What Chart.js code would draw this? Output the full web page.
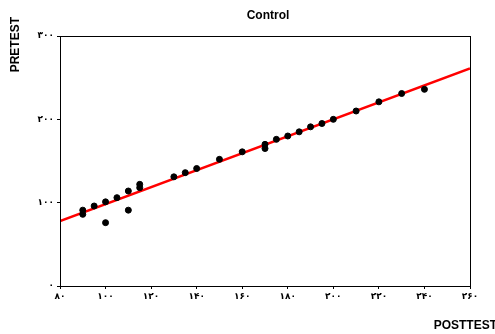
<!DOCTYPE html>
<html>
<head>
<meta charset="utf-8">
<script src="https://cdn.jsdelivr.net/npm/chart.js@4/dist/chart.umd.min.js"></script>
<style>
  body { margin: 0; background: #fff; }
  #wrap { width: 495px; height: 334px; }
</style>
</head>
<body>
<div id="wrap"><canvas id="scatterChart"></canvas></div>
<script>
// Control group: posttest (x) vs pretest (y)
var posttest = [90, 90, 95, 100, 100, 105, 110, 110, 115, 115, 130, 135, 140, 150, 160,
                170, 170, 175, 180, 185, 190, 195, 200, 210, 220, 230, 240];
var pretest  = [91, 86, 96, 101, 76, 106, 114, 91, 122, 118, 131, 136, 141, 152, 161,
                170, 165, 176, 180, 185, 191, 195, 200, 210, 221, 231, 236];

// regression line end points
var fitX = [80, 260];
var fitY = [78, 261];

// tick labels (Persian digits)
var xTicks = {80: '۸۰', 100: '۱۰۰', 120: '۱۲۰', 140: '۱۴۰', 160: '۱۶۰', 180: '۱۸۰',
              200: '۲۰۰', 220: '۲۲۰', 240: '۲۴۰', 260: '۲۶۰'};
var yTicks = {0: '۰', 100: '۱۰۰', 200: '۲۰۰', 300: '۳۰۰'};

var points = posttest.map(function(v, i) {
    return { x: v, y: pretest[i] };
});
var fitLine = fitX.map(function(v, i) {
    return { x: v, y: fitY[i] };
});

// frame, title and axis titles
var extras = {
    id: 'extras',
    afterDraw: function(chart) {
        var ctx = chart.ctx;
        var a = chart.chartArea;
        ctx.save();
        ctx.strokeStyle = '#000';
        ctx.lineWidth = 1;
        ctx.strokeRect(a.left + 0.5, a.top + 0.5, a.right - a.left, a.bottom - a.top);

        ctx.fillStyle = '#000';
        ctx.font = 'bold 12px "Liberation Sans", Arial, sans-serif';
        ctx.textAlign = 'center';
        ctx.textBaseline = 'middle';
        ctx.fillText('Control', 268, 16);

        ctx.font = 'bold 12px "Liberation Sans", Arial, sans-serif';
        ctx.textAlign = 'right';
        ctx.fillText('POSTTEST', 497, 326);

        ctx.translate(16, 17);
        ctx.rotate(-Math.PI / 2);
        ctx.textAlign = 'right';
        ctx.fillText('PRETEST', 0, 0);
        ctx.restore();
    }
};

var ctx = document.getElementById('scatterChart').getContext('2d');
new Chart(ctx, {
    type: 'scatter',
    data: {
        datasets: [{
            label: 'Control',
            data: points,
            backgroundColor: '#000',
            borderColor: '#000',
            pointRadius: 3,
            pointHoverRadius: 3
        }, {
            label: 'Fit',
            data: fitLine,
            showLine: true,
            borderColor: '#ff0000',
            borderWidth: 2.5,
            pointRadius: 0
        }]
    },
    options: {
        responsive: true,
        maintainAspectRatio: false,
        animation: false,
        layout: {
            padding: { top: 36, right: 25, bottom: 0, left: 0 }
        },
        plugins: {
            legend: { display: false },
            tooltip: { enabled: false },
            title: { display: false }
        },
        scales: {
            x: {
                type: 'linear',
                min: 80,
                max: 260,
                afterFit: function(scale) { scale.height = 48; },
                afterBuildTicks: function(scale) {
                    scale.ticks = Object.keys(xTicks).map(function(k) { return { value: +k }; });
                },
                grid: { drawOnChartArea: false, tickLength: 3, color: '#000' },
                border: { color: '#000', width: 1 },
                ticks: {
                    color: '#000',
                    padding: 2,
                    maxRotation: 0,
                    autoSkip: false,
                    font: { family: '"DejaVu Sans"', size: 9, weight: 'bold' },
                    callback: function(v) { return xTicks[v]; }
                }
            },
            y: {
                type: 'linear',
                min: 0,
                max: 300,
                afterFit: function(scale) { scale.width = 60; },
                afterBuildTicks: function(scale) {
                    scale.ticks = Object.keys(yTicks).map(function(k) { return { value: +k }; });
                },
                grid: { drawOnChartArea: false, tickLength: 3, color: '#000' },
                border: { color: '#000', width: 1 },
                ticks: {
                    color: '#000',
                    padding: 3,
                    autoSkip: false,
                    font: { family: '"DejaVu Sans"', size: 9, weight: 'bold' },
                    callback: function(v) { return yTicks[v]; }
                }
            }
        }
    },
    plugins: [extras]
});
</script>
</body>
</html>
